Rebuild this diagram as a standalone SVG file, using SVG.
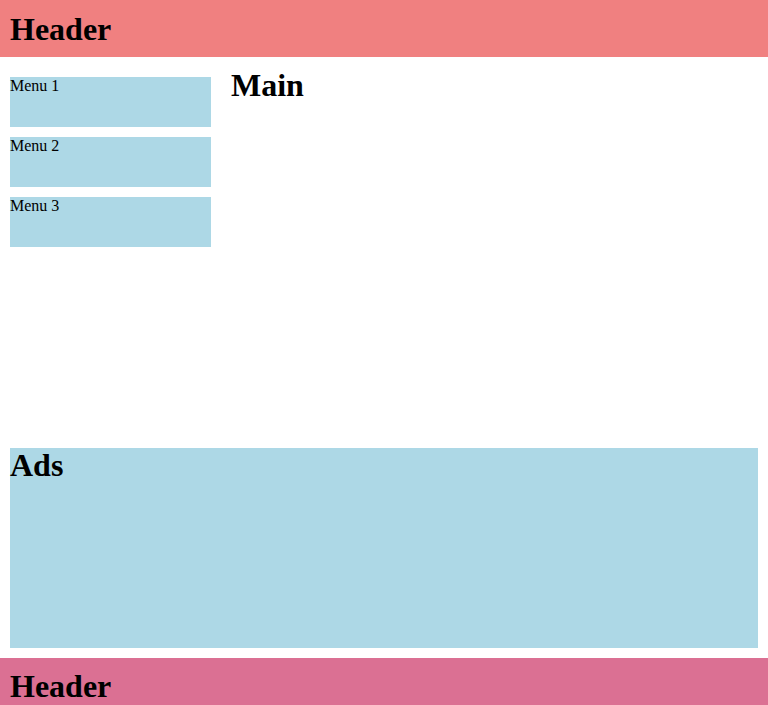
<svg xmlns="http://www.w3.org/2000/svg" width="768" height="705" viewBox="0 0 768 705">
<style>
.h1{font-family:"Liberation Serif","Times New Roman",serif;font-weight:bold;font-size:32px;fill:#000}
.menu{font-family:"Liberation Serif","Times New Roman",serif;font-size:16px;fill:#000}
.blue{fill:#ADD8E6}
</style>
<rect width="768" height="705" fill="#FFFFFF"/>
<g id="header">
<rect x="0" y="0" width="768" height="57" fill="#F08080"/>
<text class="h1" x="10" y="40">Header</text>
</g>
<g id="menu1">
<rect class="blue" x="10" y="77" width="201" height="50"/>
<text class="menu" x="10" y="91">Menu 1</text>
</g>
<g id="menu2">
<rect class="blue" x="10" y="137" width="201" height="50"/>
<text class="menu" x="10" y="151">Menu 2</text>
</g>
<g id="menu3">
<rect class="blue" x="10" y="197" width="201" height="50"/>
<text class="menu" x="10" y="211">Menu 3</text>
</g>
<g id="main">
<text class="h1" x="231" y="96">Main</text>
</g>
<g id="ads">
<rect class="blue" x="10" y="448" width="748" height="200"/>
<text class="h1" x="10" y="476">Ads</text>
</g>
<g id="footer">
<rect x="0" y="658" width="768" height="47" fill="#DB7093"/>
<text class="h1" x="10" y="697">Header</text>
</g>
<g id="connectors"/>
</svg>
